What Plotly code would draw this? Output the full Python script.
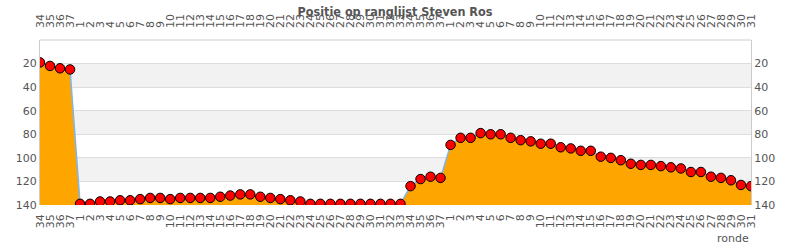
import plotly.graph_objects as go

title = "Positie op ranglijst Steven Ros"
rondes = ([34, 35, 36, 37] + list(range(1, 34)) + [34, 35, 36, 37] + list(range(1, 32)))
positie = [19, 22, 24, 25,
           139, 139, 137, 137, 136, 136, 135, 134, 134, 135, 134, 134, 134, 134, 133, 132,
           131, 131, 133, 134, 135, 136, 137, 139, 139, 139, 139, 139, 139, 139, 139, 139, 139,
           124, 118, 116, 117,
           89, 83, 83, 79, 80, 80, 83, 85, 86, 88, 88, 91, 92, 94, 94, 99, 100, 102, 105, 106,
           106, 107, 108, 109, 112, 112, 116, 117, 119, 123, 124]
y_ticks = [20, 40, 60, 80, 100, 120, 140]
y_min, y_max = 0, 140
x_title = "ronde"

xs = list(range(len(rondes)))
labels = [str(r) for r in rondes]

fig = go.Figure()
fig.add_trace(go.Scatter(x=xs, y=[y_max] * len(xs), mode="lines",
                         line=dict(width=0), hoverinfo="skip", showlegend=False))
fig.add_trace(go.Scatter(x=xs, y=positie, mode="lines+markers", fill="tonexty",
                         fillcolor="#FFA500",
                         line=dict(color="#7cb5ec", width=1.5),
                         marker=dict(symbol="circle", size=9.5, color="#FF0000",
                                     line=dict(color="#000000", width=1)),
                         showlegend=False))
fig.add_trace(go.Scatter(x=xs, y=positie, xaxis="x2", yaxis="y2", mode="markers",
                         opacity=0, hoverinfo="skip", showlegend=False))

shapes = []
for i in range(1, len(y_ticks) - 1, 2):
    shapes.append(dict(type="rect", xref="paper", yref="y", x0=0, x1=1,
                       y0=y_ticks[i - 1], y1=y_ticks[i], fillcolor="#f2f2f2",
                       line=dict(width=0), layer="below"))

tickfont = dict(family="DejaVu Sans", size=11, color="#555555")
xcommon = dict(range=[0, len(xs) - 1], tickmode="array", tickvals=xs, ticktext=labels,
               tickangle=-90, tickfont=tickfont, showgrid=False, zeroline=False,
               ticks="", showline=False, fixedrange=True)
ycommon = dict(range=[y_max, y_min], tickmode="array", tickvals=y_ticks,
               tickfont=tickfont, zeroline=False, ticks="", fixedrange=True)

fig.update_layout(
    width=790, height=250,
    margin=dict(l=40, r=39, t=40, b=45),
    paper_bgcolor="white", plot_bgcolor="rgba(0,0,0,0)",
    title=dict(text=title, x=0.5, xanchor="center", y=0.955, yanchor="middle",
               font=dict(family="DejaVu Sans Condensed", size=12.5, color="#555555",
                         weight="bold")),
    xaxis=dict(side="bottom", ticklabelstandoff=6, **xcommon),
    xaxis2=dict(side="top", overlaying="x", ticklabelstandoff=11, **xcommon),
    yaxis=dict(side="left", showgrid=True, gridcolor="#dddddd", gridwidth=1,
               showline=True, linecolor="#cccccc", linewidth=1, **ycommon),
    yaxis2=dict(side="right", overlaying="y", showgrid=False,
                showline=True, linecolor="#cccccc", linewidth=1, **ycommon),
    shapes=shapes + [dict(type="line", xref="paper", yref="paper", x0=0, x1=1, y0=1, y1=1,
                          line=dict(color="#cccccc", width=1))],
    annotations=[dict(text=x_title, xref="paper", yref="paper", x=1, y=0,
                      xanchor="right", yanchor="top", yshift=-25, showarrow=False,
                      font=dict(family="DejaVu Sans", size=11, color="#555555"))],
)

fig.write_html("out.html")
